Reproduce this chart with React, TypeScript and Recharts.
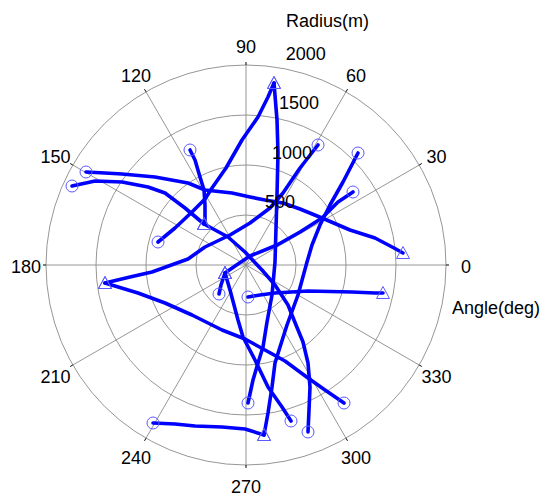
import React from 'react';
import {
  ScatterChart,
  Scatter,
  XAxis,
  YAxis,
  RadarChart,
  Radar,
  PolarGrid,
  PolarAngleAxis,
  PolarRadiusAxis,
} from 'recharts';

// ---------- data ----------
// angle labels (deg), clockwise from the top as the polar axis lays them out
const angleLabels = ['90', '60', '30', '0', '330', '300', '270', '240', '210', '180', '150', '120'];
// radius ticks (m)
const radiusTicks = [0, 500, 1000, 1500, 2000];

// trajectories: [east (m), north (m)], start (circle) -> end (triangle)
type P = [number, number];
const track01: P[] = [[-560, 1150], [-510, 1050], [-460, 880], [-420, 750], [-410, 600], [-410, 450], [-420, 410]];
const track02: P[] = [[-1600, 930], [-1410, 920], [-1240, 910], [-910, 880], [-580, 820], [-410, 750], [-140, 720], [40, 680], [190, 650], [370, 620], [540, 560], [760, 470], [1040, 350], [1290, 270], [1480, 170], [1570, 120]];
const track03: P[] = [[-1740, 790], [-1510, 840], [-1240, 830], [-980, 780], [-810, 720], [-610, 570], [-420, 410]];
const track04: P[] = [[620, -1670], [630, -1450], [640, -1220], [620, -980], [570, -770], [500, -600], [420, -400], [290, -200], [160, -50], [-10, 130], [-180, 280], [-420, 410]];
const track05: P[] = [[720, 1200], [540, 970], [370, 720], [240, 570], [40, 420], [-160, 300], [-410, 180], [-580, 60], [-940, -70], [-1160, -120], [-1410, -180]];
const track06: P[] = [[980, -1380], [790, -1250], [620, -1130], [390, -960], [190, -850], [-10, -740], [-240, -650], [-540, -500], [-810, -380], [-1080, -280], [-1410, -180]];
const track07: P[] = [[-880, 230], [-710, 370], [-540, 530], [-410, 660], [-340, 770], [-200, 970], [-40, 1250], [120, 1480], [220, 1680], [280, 1820]];
const track08: P[] = [[20, -1380], [70, -1150], [120, -980], [170, -820], [210, -570], [260, -300], [290, 30], [300, 370], [310, 700], [320, 1120], [310, 1450], [280, 1820]];
const track09: P[] = [[1120, 1120], [970, 830], [840, 600], [740, 400], [660, 200], [610, 30], [520, -300], [410, -600], [340, -820], [290, -980], [260, -1220], [220, -1480], [180, -1700]];
const track10: P[] = [[-930, -1580], [-710, -1590], [-510, -1610], [-240, -1620], [-10, -1640], [180, -1700]];
const track11: P[] = [[1070, 730], [920, 630], [760, 470], [540, 330], [310, 200], [40, 90], [-80, 10], [-210, -80]];
const track12: P[] = [[-270, -290], [-250, -200], [-230, -140], [-210, -80]];
const track13: P[] = [[450, -1560], [360, -1420], [220, -1220], [90, -950], [-30, -720], [-80, -550], [-120, -400], [-160, -250], [-210, -80]];
const track14: P[] = [[20, -320], [140, -300], [290, -280], [620, -260], [1060, -270], [1290, -280], [1370, -280]];

const tracks: P[][] = [
  track01, track02, track03, track04, track05, track06, track07,
  track08, track09, track10, track11, track12, track13, track14,
];

// ---------- derived ----------
const toPoints = (t: P[]) => t.map(([x, y]) => ({ x, y }));
const startPoints = tracks.map((t) => ({ x: t[0][0], y: t[0][1] }));
const endPoints = tracks.map((t) => ({ x: t[t.length - 1][0], y: t[t.length - 1][1] }));
const polarData = angleLabels.map((label) => ({ label, r: 0 }));

// ---------- layout / style ----------
const W = 534;
const H = 493;
const CX = 238;
const CY = 257;
const OUTER = 200;
const LABEL_R = 220;
const FONT = '"Liberation Sans", Arial, Helvetica, sans-serif';
const LINE_BLUE = '#0000ff';
const MARK_BLUE = '#5a5aff';
const GRID = '#8a8a8a';

const AngleTick = (props: any) => {
  const { x, y, payload } = props;
  const dx = x - CX;
  const dy = y - CY;
  const d = Math.hypot(dx, dy) || 1;
  return (
    <text
      x={CX + (dx / d) * LABEL_R}
      y={CY + (dy / d) * LABEL_R + 2}
      textAnchor="middle"
      dominantBaseline="central"
      fontSize={18}
      fontFamily={FONT}
      fill="#000"
    >
      {payload.value}
    </text>
  );
};

const RadiusTick = (props: any) => {
  const { x, y, payload } = props;
  if (payload.value === 0) return <g />;
  return (
    <text x={x + 12} y={y - 7} textAnchor="start" fontSize={18} fontFamily={FONT} fill="#000">
      {payload.value}
    </text>
  );
};

const NoShape = () => <g />;

const CircleMark = (props: any) => (
  <circle cx={props.cx} cy={props.cy} r={6} fill="none" stroke={MARK_BLUE} strokeWidth={1} />
);

const TriangleMark = (props: any) => {
  const { cx, cy } = props;
  const pts = `${cx},${cy - 6.5} ${cx - 6.5},${cy + 5.5} ${cx + 6.5},${cy + 5.5}`;
  return <polygon points={pts} fill="none" stroke={MARK_BLUE} strokeWidth={1} />;
};

const layer: React.CSSProperties = { position: 'absolute', left: 0, top: 0 };

export default function App() {
  return (
    <div style={{ position: 'relative', width: W, height: H, marginBottom: -8, background: '#fff' }}>
      {/* grid layer */}
      <div style={layer}>
        <RadarChart width={W} height={H} data={polarData} cx={CX} cy={CY} outerRadius={OUTER}
          margin={{ top: 0, right: 0, bottom: 0, left: 0 }}>
          <PolarGrid gridType="circle" stroke={GRID} strokeWidth={0.9} />
          <PolarAngleAxis dataKey="label" tick={false} tickLine={false} axisLine={false} />
          <PolarRadiusAxis type="number" domain={[0, 2000]} ticks={radiusTicks as any} tickCount={5}
            tick={false} axisLine={false} />
          <Radar dataKey="r" stroke="none" fill="none" dot={false} isAnimationActive={false} />
        </RadarChart>
      </div>

      {/* data layer */}
      <div style={layer}>
        <ScatterChart width={W} height={H} margin={{ top: CY - OUTER, left: CX - OUTER, right: W - CX - OUTER, bottom: H - CY - OUTER }}>
          <XAxis type="number" dataKey="x" domain={[-2000, 2000]} hide allowDataOverflow />
          <YAxis type="number" dataKey="y" domain={[-2000, 2000]} hide allowDataOverflow />
          {tracks.map((t, i) => (
            <Scatter
              key={`track-${i}`}
              data={toPoints(t)}
              line={{ stroke: LINE_BLUE, strokeWidth: 3.6, strokeLinejoin: 'round', strokeLinecap: 'round' } as any}
              lineJointType="linear"
              shape={NoShape as any}
              isAnimationActive={false}
            />
          ))}
          <Scatter data={startPoints} shape={CircleMark as any} isAnimationActive={false} />
          <Scatter data={endPoints} shape={TriangleMark as any} isAnimationActive={false} />
        </ScatterChart>
      </div>

      {/* label layer */}
      <div style={layer}>
        <RadarChart width={W} height={H} data={polarData} cx={CX} cy={CY} outerRadius={OUTER}
          margin={{ top: 0, right: 0, bottom: 0, left: 0 }}>
          <PolarAngleAxis dataKey="label" tick={AngleTick as any} tickSize={3} stroke="#000"
            tickLine={{ stroke: '#000', strokeWidth: 1 } as any} axisLine={false} />
          <PolarRadiusAxis type="number" angle={82} domain={[0, 2000]} ticks={radiusTicks as any} tickCount={5}
            tick={RadiusTick as any} axisLine={false} />
          <Radar dataKey="r" stroke="none" fill="none" dot={false} isAnimationActive={false} />
          <text x={278} y={19} fontSize={18} fontFamily={FONT} fill="#000">Radius(m)</text>
          <text x={444} y={306} fontSize={18} fontFamily={FONT} fill="#000">Angle(deg)</text>
        </RadarChart>
      </div>
    </div>
  );
}
